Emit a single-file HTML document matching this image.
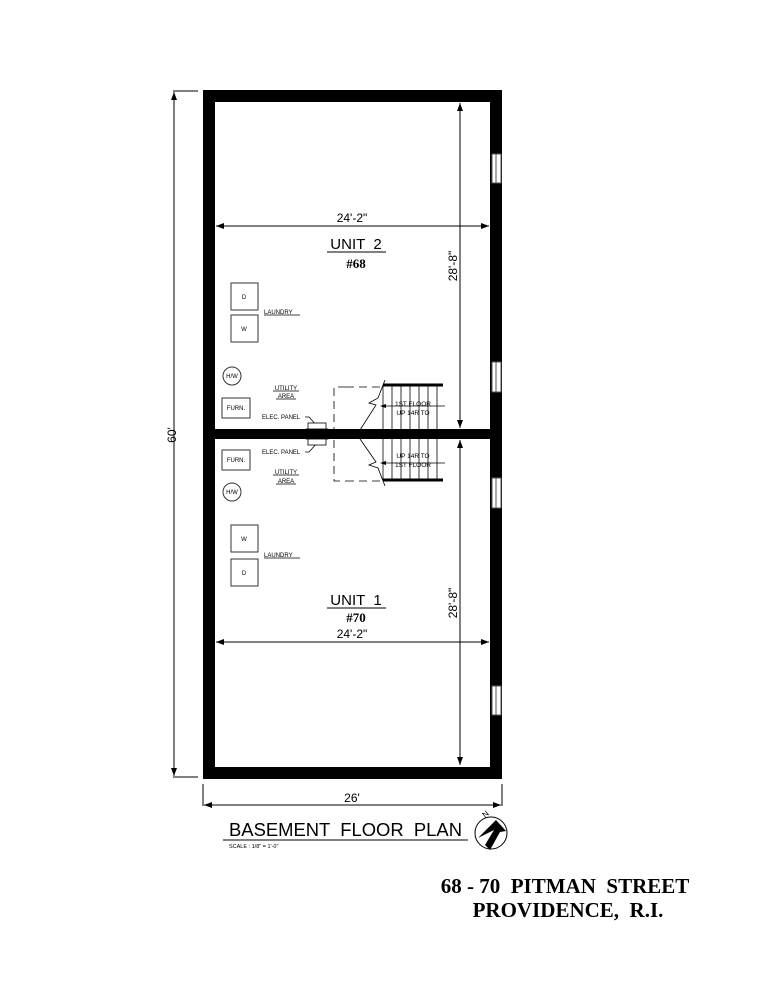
<!DOCTYPE html>
<html><head><meta charset="utf-8"><style>
html,body{margin:0;padding:0;background:#fff;}
svg{display:block;}
text{font-family:"Liberation Sans",sans-serif;fill:#000;}
.s{font-size:6px;}
.serif{font-family:"Liberation Serif",serif;font-weight:bold;}
</style></head><body>
<svg width="779" height="1008" viewBox="0 0 779 1008" xmlns="http://www.w3.org/2000/svg">
<defs>
<marker id="ar" markerWidth="8" markerHeight="6" refX="8" refY="3" orient="auto-start-reverse" markerUnits="userSpaceOnUse"><path d="M0,0 L8,3 L0,6 z" fill="#000"/></marker>
</defs>
<g fill="#000">
<rect x="203" y="90" width="299" height="12"/>
<rect x="203" y="767" width="299" height="12"/>
<rect x="203" y="90" width="12" height="689"/>
<rect x="490" y="90" width="12" height="689"/>
<rect x="203" y="429" width="299" height="10"/>
</g>
<g fill="#fff" stroke="#555" stroke-width="1">
<rect x="492" y="154" width="9" height="29"/><line x1="496" y1="154" x2="496" y2="183"/>
<rect x="492" y="362" width="9" height="30"/><line x1="496" y1="362" x2="496" y2="392"/>
<rect x="492" y="478" width="9" height="30"/><line x1="496" y1="478" x2="496" y2="508"/>
<rect x="492" y="686" width="9" height="29"/><line x1="496" y1="686" x2="496" y2="715"/>
</g>
<g stroke="#000" stroke-width="1" fill="none">
<line x1="173" y1="91" x2="198" y2="91"/>
<line x1="173" y1="777" x2="198" y2="777"/>
<line x1="174" y1="92" x2="174" y2="776" marker-start="url(#ar)" marker-end="url(#ar)"/>
<line x1="460" y1="103" x2="460" y2="428" marker-start="url(#ar)" marker-end="url(#ar)"/>
<line x1="460" y1="440" x2="460" y2="765" marker-start="url(#ar)" marker-end="url(#ar)"/>
<line x1="216" y1="226" x2="489" y2="226" marker-start="url(#ar)" marker-end="url(#ar)"/>
<line x1="216" y1="642" x2="489" y2="642" marker-start="url(#ar)" marker-end="url(#ar)"/>
<line x1="203" y1="784" x2="203" y2="806"/>
<line x1="502" y1="784" x2="502" y2="806"/>
<line x1="204" y1="805" x2="501" y2="805" marker-start="url(#ar)" marker-end="url(#ar)"/>
</g>
<text x="176" y="435" font-size="12" transform="rotate(-90 176 435)" text-anchor="middle">60'</text>
<text x="457" y="266" font-size="12" transform="rotate(-90 457 266)" text-anchor="middle">28'-8"</text>
<text x="457" y="603" font-size="12" transform="rotate(-90 457 603)" text-anchor="middle">28'-8"</text>
<text x="352" y="222" font-size="12" text-anchor="middle">24'-2"</text>
<text x="352" y="638" font-size="12" text-anchor="middle">24'-2"</text>
<text x="352" y="802" font-size="12" text-anchor="middle">26'</text>
<text x="356" y="249" font-size="15" text-anchor="middle" xml:space="preserve">UNIT  2</text>
<line x1="327" y1="252" x2="386" y2="252" stroke="#000"/>
<text x="356" y="268" font-size="13" text-anchor="middle" class="serif">#68</text>
<text x="356" y="605" font-size="15" text-anchor="middle" xml:space="preserve">UNIT  1</text>
<line x1="327" y1="608" x2="386" y2="608" stroke="#000"/>
<text x="356" y="622" font-size="13" text-anchor="middle" class="serif">#70</text>
<g fill="none" stroke="#333" stroke-width="1">
<rect x="231" y="283" width="27" height="27"/>
<rect x="231" y="315" width="27" height="27"/>
<circle cx="232" cy="376" r="9"/>
<rect x="222" y="398" width="28" height="20"/>
<rect x="222" y="450" width="28" height="20"/>
<circle cx="232" cy="492" r="9"/>
<rect x="231" y="525" width="27" height="27"/>
<rect x="231" y="559" width="27" height="27"/>
</g>
<text x="244" y="299" class="s" text-anchor="middle">D</text>
<text x="244" y="331" class="s" text-anchor="middle">W</text>
<text x="232" y="378" class="s" text-anchor="middle">H/W</text>
<text x="236" y="410" class="s" text-anchor="middle">FURN.</text>
<text x="236" y="462" class="s" text-anchor="middle">FURN.</text>
<text x="232" y="494" class="s" text-anchor="middle">H/W</text>
<text x="244" y="541" class="s" text-anchor="middle">W</text>
<text x="244" y="575" class="s" text-anchor="middle">D</text>
<text x="264" y="314" class="s">LAUNDRY</text><line x1="264" y1="315" x2="300" y2="315" stroke="#000" stroke-width=".7"/>
<text x="264" y="557" class="s">LAUNDRY</text><line x1="264" y1="558" x2="300" y2="558" stroke="#000" stroke-width=".7"/>
<text x="286" y="390" class="s" text-anchor="middle">UTILITY</text><line x1="273" y1="391" x2="299" y2="391" stroke="#000" stroke-width=".7"/>
<text x="286" y="398" class="s" text-anchor="middle">AREA</text><line x1="276" y1="399" x2="296" y2="399" stroke="#000" stroke-width=".7"/>
<text x="286" y="474" class="s" text-anchor="middle">UTILITY</text><line x1="273" y1="475" x2="299" y2="475" stroke="#000" stroke-width=".7"/>
<text x="286" y="483" class="s" text-anchor="middle">AREA</text><line x1="276" y1="484" x2="296" y2="484" stroke="#000" stroke-width=".7"/>
<text x="262" y="419" class="s">ELEC. PANEL</text>
<text x="262" y="454" class="s">ELEC. PANEL</text>
<g fill="none" stroke="#000" stroke-width=".8">
<path d="M305,417 L309,417 L318,427"/>
<path d="M305,452 L309,452 L318,442"/>
<rect x="308" y="423" width="18" height="22" fill="#fff"/>
<rect x="306" y="429" width="22" height="10" fill="#000"/>
<path d="M346,387 L334,387 L334,481 L346,481" stroke-dasharray="8,5"/>
<path d="M346,387 L383,387 M346,481 L383,481" stroke-dasharray="8,5"/>
<line x1="383" y1="385" x2="443" y2="385" stroke-width="3"/>
<line x1="383" y1="480" x2="443" y2="480" stroke-width="3"/>
<path d="M385,380 L378,398 L369,403 L376,405 L360,430 M360,439 L376,462 L369,465 L378,468 L385,486"/>
<path d="M383,406 L445,406 M383,463 L445,463"/>
</g>
<g stroke="#000" stroke-width=".8">
<line x1="383" y1="386" x2="383" y2="429"/><line x1="392" y1="386" x2="392" y2="429"/><line x1="401" y1="386" x2="401" y2="429"/><line x1="410" y1="386" x2="410" y2="429"/><line x1="419" y1="386" x2="419" y2="429"/><line x1="428" y1="386" x2="428" y2="429"/><line x1="437" y1="386" x2="437" y2="429"/>
<line x1="383" y1="439" x2="383" y2="480"/><line x1="392" y1="439" x2="392" y2="480"/><line x1="401" y1="439" x2="401" y2="480"/><line x1="410" y1="439" x2="410" y2="480"/><line x1="419" y1="439" x2="419" y2="480"/><line x1="428" y1="439" x2="428" y2="480"/><line x1="437" y1="439" x2="437" y2="480"/>
</g>
<path d="M380,406 L386,404 L386,408z M380,463 L386,461 L386,465z" fill="#000"/>
<text x="413" y="406" class="s" text-anchor="middle" style="font-size:6.5px">1ST FLOOR</text>
<text x="413" y="415" class="s" text-anchor="middle" style="font-size:6.5px">UP 14R TO</text>
<text x="413" y="458" class="s" text-anchor="middle" style="font-size:6.5px">UP 14R TO</text>
<text x="413" y="467" class="s" text-anchor="middle" style="font-size:6.5px">1ST FLOOR</text>
<text x="229" y="836" font-size="18" textLength="233" lengthAdjust="spacingAndGlyphs" xml:space="preserve">BASEMENT  FLOOR  PLAN</text>
<line x1="223" y1="840" x2="468" y2="840" stroke="#000" stroke-width="1"/>
<text x="229" y="848" style="font-size:5.5px">SCALE : 1/8" = 1'-0"</text>
<circle cx="491" cy="833" r="16" fill="#fff" stroke="#000" stroke-width="1"/>
<path d="M478,838 L496,820 L506,831 L500,832 L490,850 L485,845 L494,830 Z" fill="#000"/>
<text x="485" y="818" font-size="8" transform="rotate(-40 485 818)">N</text>
<text x="565" y="893" font-size="21" text-anchor="middle" class="serif" xml:space="preserve">68 - 70  PITMAN  STREET</text>
<text x="568" y="917" font-size="21" text-anchor="middle" class="serif" xml:space="preserve">PROVIDENCE,  R.I.</text>
</svg>
</body></html>
